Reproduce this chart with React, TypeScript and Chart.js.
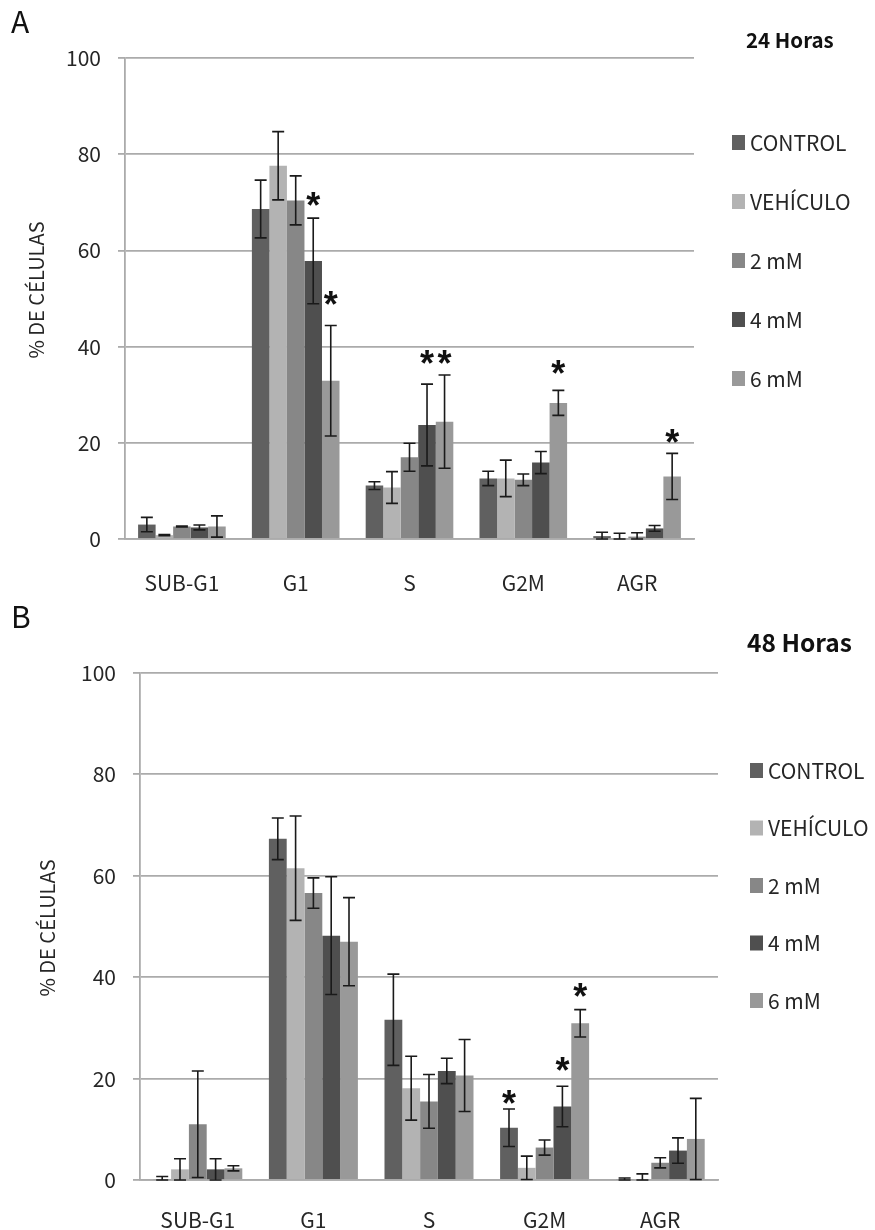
import React, { useEffect, useRef } from "react";
import { Chart, registerables } from "chart.js";

Chart.register(...registerables);

const categories = ["SUB-G1", "G1", "S", "G2M", "AGR"];
const seriesNames = ["CONTROL", "VEHÍCULO", "2 mM", "4 mM", "6 mM"];
const seriesColors = ["#606060", "#b3b3b3", "#878787", "#4f4f4f", "#999999"];
const yTicks = [0, 20, 40, 60, 80, 100];

// Panel A: 24 horas
const a24Control = [3.0, 68.6, 11.1, 12.6, 0.6];
const a24Vehiculo = [0.8, 77.6, 10.7, 12.6, 0.2];
const a24mM2 = [2.6, 70.4, 17.0, 12.3, 0.5];
const a24mM4 = [2.4, 57.8, 23.7, 15.9, 2.2];
const a24mM6 = [2.6, 32.9, 24.4, 28.3, 13.0];
const a24ErrControl = [1.5, 6.0, 0.8, 1.5, 0.8];
const a24ErrVehiculo = [0.1, 7.1, 3.3, 3.8, 1.0];
const a24ErrmM2 = [0.1, 5.1, 2.9, 1.2, 0.8];
const a24ErrmM4 = [0.5, 8.9, 8.5, 2.3, 0.6];
const a24ErrmM6 = [2.2, 11.5, 9.7, 2.6, 4.8];
// [category index, series index, value where the asterisk sits]
const a24Stars = [[1, 3, 70.7], [1, 4, 50.2], [2, 3, 37.8], [2, 4, 37.8], [3, 4, 35.8], [4, 4, 21.5]];

// Panel B: 48 horas
const b48Control = [0.2, 67.3, 31.6, 10.3, 0.2];
const b48Vehiculo = [2.1, 61.5, 18.1, 2.4, 0.2];
const b48mM2 = [11.0, 56.6, 15.5, 6.4, 3.4];
const b48mM4 = [2.1, 48.2, 21.5, 14.5, 5.8];
const b48mM6 = [2.3, 47.0, 20.6, 30.9, 8.1];
const b48ErrControl = [0.5, 4.1, 9.0, 3.7, 0.2];
const b48ErrVehiculo = [2.1, 10.3, 6.3, 2.3, 1.0];
const b48ErrmM2 = [10.5, 3.0, 5.3, 1.5, 1.0];
const b48ErrmM4 = [2.1, 11.6, 2.5, 4.0, 2.5];
const b48ErrmM6 = [0.5, 8.7, 7.1, 2.7, 8.0];
const b48Stars = [[3, 0, 16.4], [3, 3, 22.8], [3, 4, 37.5]];

const FONT = "'Noto Sans CJK SC', Lato, sans-serif";
const WIDE = "'Liberation Sans', Arial, sans-serif";
const GRID = "#ababab";
const TEXT = "#262626";

type Panel = {
  letter: string;
  title: string;
  titleSize: number;
  height: number;
  left: number;
  right: number;
  top: number;
  bottom: number;
  labelPad: number;
  values: number[][];
  errors: number[][];
  stars: number[][];
  legendX: number;
  legendY: number;
  legendStep: number;
  titleX: number;
  titleY: number;
  letterY: number;
  yTitleX: number;
  yTitleY: number;
};

const panelA: Panel = {
  letter: "A",
  title: "24 Horas",
  titleSize: 20.5,
  height: 600,
  left: 125,
  right: 694,
  top: 58,
  bottom: 539,
  labelPad: 23,
  values: [a24Control, a24Vehiculo, a24mM2, a24mM4, a24mM6],
  errors: [a24ErrControl, a24ErrVehiculo, a24ErrmM2, a24ErrmM4, a24ErrmM6],
  stars: a24Stars,
  legendX: 732,
  legendY: 143,
  legendStep: 59,
  titleX: 746,
  titleY: 40,
  letterY: 22,
  yTitleX: 36,
  yTitleY: 290,
};

const panelB: Panel = {
  letter: "B",
  title: "48 Horas",
  titleSize: 24.5,
  height: 630,
  left: 140,
  right: 718,
  top: 73,
  bottom: 580,
  labelPad: 19,
  values: [b48Control, b48Vehiculo, b48mM2, b48mM4, b48mM6],
  errors: [b48ErrControl, b48ErrVehiculo, b48ErrmM2, b48ErrmM4, b48ErrmM6],
  stars: b48Stars,
  legendX: 750,
  legendY: 171,
  legendStep: 57.5,
  titleX: 747,
  titleY: 43,
  letterY: 17,
  yTitleX: 47,
  yTitleY: 328,
};

function PanelChart({ panel, top }: { panel: Panel; top: number }) {
  const ref = useRef<HTMLCanvasElement | null>(null);
  useEffect(() => {
    const canvas = ref.current;
    if (!canvas) return;
    const p = panel;
    const decorations = {
      id: "decorations",
      afterDatasetsDraw(chart: any) {
        const ctx = chart.ctx;
        const ys = chart.scales.y;
        ctx.save();
        ctx.strokeStyle = "#1a1a1a";
        ctx.lineWidth = 1.6;
        p.values.forEach((_, di) => {
          const meta = chart.getDatasetMeta(di);
          meta.data.forEach((bar: any, ci: number) => {
            const v = p.values[di][ci];
            const e = p.errors[di][ci];
            const yTop = ys.getPixelForValue(v + e);
            const yBot = ys.getPixelForValue(Math.max(0, v - e));
            const x = bar.x;
            ctx.beginPath();
            ctx.moveTo(x, yTop);
            ctx.lineTo(x, yBot);
            ctx.moveTo(x - 6, yTop);
            ctx.lineTo(x + 6, yTop);
            ctx.moveTo(x - 6, yBot);
            ctx.lineTo(x + 6, yBot);
            ctx.stroke();
          });
        });
        ctx.fillStyle = "#111";
        ctx.font = `bold 36px ${WIDE}`;
        ctx.textAlign = "center";
        ctx.textBaseline = "alphabetic";
        p.stars.forEach(([ci, di, val]) => {
          const bar = chart.getDatasetMeta(di).data[ci];
          const cy = ys.getPixelForValue(val);
          const m = ctx.measureText("*");
          const off = (m.actualBoundingBoxAscent - m.actualBoundingBoxDescent) / 2;
          ctx.fillText("*", bar.x, cy + off);
        });
        ctx.restore();
      },
      afterDraw(chart: any) {
        const ctx = chart.ctx;
        ctx.save();
        // panel letter
        ctx.fillStyle = "#111";
        ctx.font = `30px ${FONT}`;
        ctx.textAlign = "left";
        ctx.textBaseline = "middle";
        ctx.fillText(p.letter, 11, p.letterY);
        // title
        ctx.font = `bold ${p.titleSize}px ${FONT}`;
        ctx.fillText(p.title, p.titleX, p.titleY);
        // y axis title
        ctx.save();
        ctx.translate(p.yTitleX, p.yTitleY);
        ctx.rotate(-Math.PI / 2);
        ctx.textAlign = "center";
        ctx.font = `20px ${FONT}`;
        ctx.fillStyle = TEXT;
        ctx.fillText("% DE CÉLULAS", 0, 0);
        ctx.restore();
        // legend
        ctx.font = `21px ${FONT}`;
        ctx.textAlign = "left";
        ctx.textBaseline = "middle";
        seriesNames.forEach((name, i) => {
          const y = p.legendY + i * p.legendStep;
          ctx.fillStyle = seriesColors[i];
          ctx.fillRect(p.legendX, y - 8, 13, 15);
          ctx.fillStyle = TEXT;
          ctx.fillText(name, p.legendX + 18, y);
        });
        ctx.restore();
      },
    };

    const chart = new Chart(canvas, {
      type: "bar",
      data: {
        labels: categories,
        datasets: seriesNames.map((name, i) => ({
          label: name,
          data: p.values[i],
          backgroundColor: seriesColors[i],
          borderWidth: 0,
          categoryPercentage: 0.77,
          barPercentage: 1.0,
        })),
      },
      options: {
        animation: false,
        responsive: false,
        devicePixelRatio: 1,
        layout: {
          padding: { left: 0, right: 875 - p.right, top: p.top, bottom: 0 },
        },
        plugins: { legend: { display: false }, tooltip: { enabled: false }, title: { display: false } },
        scales: {
          x: {
            grid: { display: false },
            border: { display: true, color: GRID, width: 1.8 },
            ticks: { font: { family: FONT, size: 21 }, color: TEXT, padding: p.labelPad },
            afterFit(scale: any) {
              scale.height = p.height - p.bottom;
            },
          },
          y: {
            min: 0,
            max: 100,
            afterBuildTicks(scale: any) {
              scale.ticks = yTicks.map((v) => ({ value: v }));
            },
            grid: { color: GRID, lineWidth: 1.8, tickLength: 7, drawTicks: true },
            border: { display: true, color: GRID, width: 1.8 },
            ticks: { font: { family: FONT, size: 21 }, color: TEXT, padding: 17 },
            afterFit(scale: any) {
              scale.width = p.left;
            },
          },
        },
      },
      plugins: [decorations],
    } as any);
    return () => chart.destroy();
  }, [panel]);
  return (
    <canvas
      ref={ref}
      width={875}
      height={panel.height}
      style={{ position: "absolute", left: 0, top, width: 875, height: panel.height }}
    />
  );
}

export default function App() {
  return (
    <div style={{ position: "absolute", left: 0, top: 0, width: 875, height: 1230, background: "#fff" }}>
      <PanelChart panel={panelA} top={0} />
      <PanelChart panel={panelB} top={600} />
    </div>
  );
}
